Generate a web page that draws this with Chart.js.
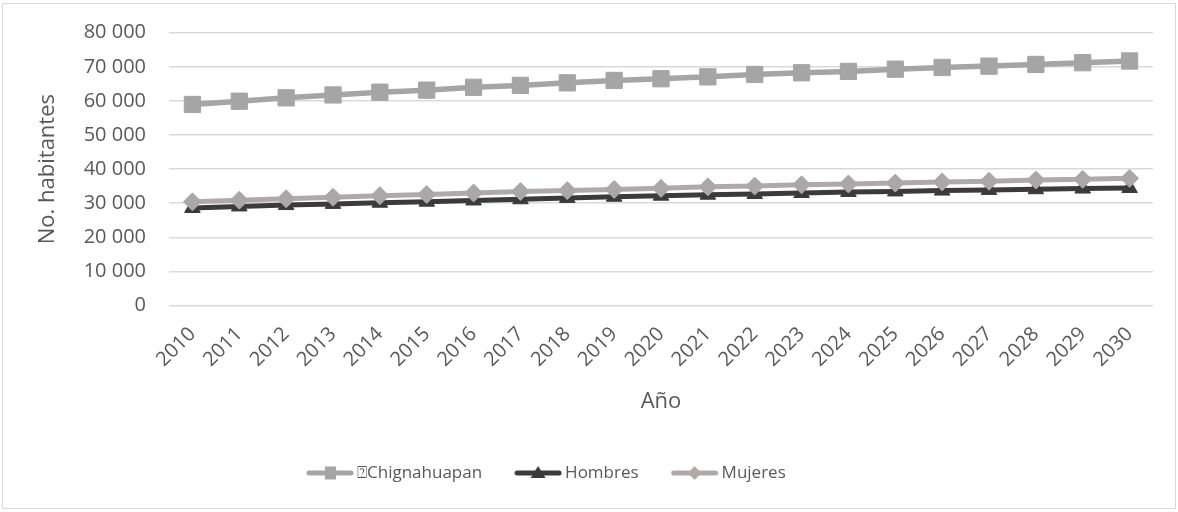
<!DOCTYPE html>
<html>
<head>
<meta charset="utf-8">
<script src="https://cdn.jsdelivr.net/npm/chart.js@4"></script>
<style>
  html, body { margin: 0; padding: 0; background: #fff; }
  .marco { position: absolute; left: 2px; top: 3px; width: 1172px; height: 504px; border: 1px solid #d9d9d9; }
</style>
</head>
<body>
<div class="marco"><canvas id="poblacion"></canvas></div>
<script>
// datos (proyeccion de poblacion)
const anios = ['2010','2011','2012','2013','2014','2015','2016','2017','2018','2019','2020',
  '2021','2022','2023','2024','2025','2026','2027','2028','2029','2030'];
const chignahuapan = [58950, 59900, 60900, 61750, 62550, 63150, 64000, 64550, 65300, 66000, 66500,
  67050, 67750, 68250, 68650, 69300, 69800, 70200, 70700, 71200, 71700];
const hombres = [28600, 29050, 29450, 29800, 30150, 30450, 30800, 31150, 31550, 31900, 32200,
  32500, 32700, 33000, 33300, 33450, 33700, 33900, 34100, 34300, 34450];
const mujeres = [30400, 30900, 31300, 31750, 32200, 32550, 33000, 33450, 33700, 34050, 34350,
  34800, 35050, 35400, 35650, 35900, 36250, 36450, 36800, 37000, 37300];
const nombres = ['\u2370Chignahuapan', 'Hombres', 'Mujeres'];

const gris = '#595959';
const fuente = "'Open Sans', sans-serif";

// icono de leyenda: linea con marcador en medio
function icono(color, tipo) {
  const c = document.createElement('canvas');
  c.width = 48; c.height = 20;
  const g = c.getContext('2d');
  g.strokeStyle = color; g.fillStyle = color; g.lineWidth = 5; g.lineCap = 'round';
  g.beginPath(); g.moveTo(3, 10); g.lineTo(45, 10); g.stroke();
  g.beginPath();
  if (tipo === 'rect') g.rect(19, 3.5, 11, 13);
  if (tipo === 'triangle') { g.moveTo(24, 3); g.lineTo(31.5, 15); g.lineTo(16.5, 15); g.closePath(); }
  if (tipo === 'rectRot') { g.moveTo(24, 3); g.lineTo(30.5, 10); g.lineTo(24, 17); g.lineTo(17.5, 10); g.closePath(); }
  g.fill();
  return c;
}

// la leyenda del original no esta centrada en el lienzo
const moverLeyenda = {
  id: 'moverLeyenda',
  afterLayout(chart) {
    const lg = chart.legend;
    const p = lg.options.labels.padding;
    const inicio = (lg.left + p + lg.right - lg.lineWidths[0]) / 2;
    const d = 308.5 - inicio;
    lg.left += d; lg.right += d;
  }
};

new Chart(document.getElementById('poblacion'), {
  type: 'line',
  data: {
    labels: anios,
    datasets: [{
      label: nombres[0],
      data: chignahuapan,
      borderColor: '#a5a5a5',
      backgroundColor: '#a5a5a5',
      borderWidth: 5.5,
      pointStyle: 'rect',
      pointRadius: 11.5,
      pointBorderWidth: 1,
      order: 3
    }, {
      label: nombres[1],
      data: hombres,
      borderColor: '#3b3b3b',
      backgroundColor: '#3b3b3b',
      borderWidth: 5,
      pointStyle: 'triangle',
      pointRadius: 9,
      pointBorderWidth: 1,
      order: 2
    }, {
      label: nombres[2],
      data: mujeres,
      borderColor: '#aeaaaa',
      backgroundColor: '#a9a7a7',
      borderWidth: 5,
      pointStyle: 'rectRot',
      pointRadius: 9,
      pointBorderWidth: 1,
      order: 1
    }]
  },
  options: {
    responsive: true,
    maintainAspectRatio: false,
    animation: false,
    layout: { padding: { top: 28.7, right: 22, bottom: 16.5, left: 0 } },
    plugins: {
      tooltip: { enabled: false },
      legend: {
        display: true,
        position: 'bottom',
        labels: {
          usePointStyle: true,
          pointStyleWidth: 37,
          padding: 37.5,
          color: gris,
          font: { family: fuente, size: 17 },
          generateLabels(chart) {
            const tipos = ['rect', 'triangle', 'rectRot'];
            const items = Chart.defaults.plugins.legend.labels.generateLabels(chart);
            items.sort((a, b) => a.datasetIndex - b.datasetIndex);
            items.forEach(it => {
              const ds = chart.data.datasets[it.datasetIndex];
              it.pointStyle = icono(ds.borderColor, tipos[it.datasetIndex]);
            });
            return items;
          }
        }
      }
    },
    scales: {
      x: {
        offset: true,
        grid: { display: false },
        border: { display: false },
        ticks: {
          color: gris,
          font: { family: fuente, size: 20 },
          minRotation: 45,
          maxRotation: 45,
          autoSkip: false,
          padding: 9
        },
        title: {
          display: true,
          text: 'Año',
          color: gris,
          font: { family: fuente, size: 22 },
          padding: { top: 0, bottom: 11.8 }
        },
        afterFit(s) { s.height = 121.5; s.paddingLeft = 0; s.paddingRight = 0; }
      },
      y: {
        min: 0,
        max: 80000,
        grid: { color: '#d9d9d9', lineWidth: 1.5, drawTicks: false },
        border: { display: false },
        ticks: {
          stepSize: 10000,
          padding: 23,
          color: gris,
          font: { family: fuente, size: 20 },
          callback: v => String(v).replace(/\B(?=(\d{3})+(?!\d))/g, ' ')
        },
        title: {
          display: true,
          text: 'No. habitantes',
          color: gris,
          font: { family: fuente, size: 22 },
          padding: { top: 31.8, bottom: 0 }
        },
        afterFit(s) { s.width = 166; s.paddingTop = 0; s.paddingBottom = 0; }
      }
    }
  },
  plugins: [moverLeyenda]
});
</script>
</body>
</html>
